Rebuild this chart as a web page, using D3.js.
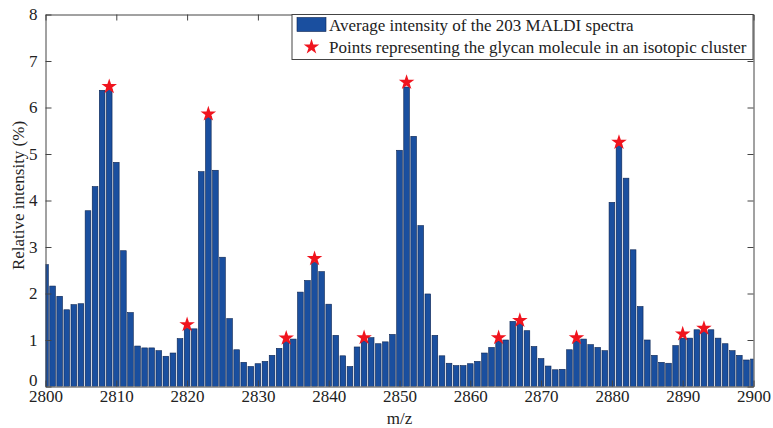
<!DOCTYPE html>
<html>
<head>
<meta charset="utf-8">
<script src="https://cdn.jsdelivr.net/npm/d3@7"></script>
<style>
  body { margin: 0; background: #fff; }
  text { font-family: "Liberation Serif", "Times New Roman", serif; fill: #222; }
</style>
</head>
<body>
<svg id="chart"></svg>
<script>
// m/z bins 2800..2900 (one bar per unit)
var mzStart = 2800;
var intensity = [
  2.62, 2.16, 1.94, 1.65, 1.76, 1.78, 3.78, 4.30, 6.37, 6.39,
  4.82, 2.92, 1.59, 0.87, 0.83, 0.83, 0.77, 0.65, 0.72, 1.03,
  1.25, 1.24, 4.62, 5.81, 4.65, 2.78, 1.46, 0.79, 0.52, 0.43,
  0.49, 0.54, 0.67, 0.82, 0.97, 1.02, 2.03, 2.28, 2.67, 2.47,
  1.77, 1.10, 0.66, 0.43, 0.85, 0.98, 1.05, 0.92, 0.96, 1.12,
  5.08, 6.44, 5.38, 3.46, 1.99, 1.10, 0.66, 0.50, 0.45, 0.45,
  0.49, 0.54, 0.72, 0.84, 0.98, 1.00, 1.40, 1.36, 1.20, 0.86,
  0.60, 0.44, 0.36, 0.37, 0.79, 0.98, 1.02, 0.90, 0.84, 0.77,
  3.96, 5.20, 4.48, 2.94, 1.72, 1.00, 0.67, 0.52, 0.50, 0.88,
  1.04, 1.04, 1.22, 1.20, 1.22, 1.04, 0.92, 0.77, 0.67, 0.57,
  0.59
];

// isotopic cluster points (stars)
var starMz = [2809, 2820, 2823, 2834, 2838, 2845, 2851, 2864, 2867, 2875, 2881, 2890, 2893];
var starVal = [6.45, 1.33, 5.86, 1.04, 2.75, 1.05, 6.54, 1.05, 1.42, 1.05, 5.25, 1.13, 1.25];

var xTicks = [2800, 2810, 2820, 2830, 2840, 2850, 2860, 2870, 2880, 2890, 2900];
var yTicks = [0, 1, 2, 3, 4, 5, 6, 7, 8];

var legendLabels = [
  'Average intensity of the 203 MALDI spectra',
  'Points representing the glycan molecule in an isotopic cluster'
];

var svgWidth = 773;
var svgHeight = 428;
var margin = { left: 45.5, top: 14.5, right: 19.5, bottom: 41.5 };
var width = svgWidth - margin.left - margin.right;
var height = svgHeight - margin.top - margin.bottom;

var barColor = '#1a4f9f';
var starColor = '#f0141e';
var fontSize = 17;

var svg = d3.select('#chart')
  .attr('width', svgWidth)
  .attr('height', svgHeight);

var x = d3.scaleLinear().domain([2800, 2900]).range([0, width]);
var y = d3.scaleLinear().domain([0, 8]).range([height, 0]);

var data = intensity.map(function(v, i) { return { mz: mzStart + i, value: v }; });
var stars = starMz.map(function(m, i) { return { mz: m, value: starVal[i] }; });

var g = svg.append('g')
  .attr('transform', 'translate(' + margin.left + ',' + margin.top + ')');

svg.append('defs').append('clipPath').attr('id', 'plot-clip')
  .append('rect').attr('width', width).attr('height', height);

var barW = 0.8 * (x(1) - x(0));

// bars
g.append('g')
  .attr('clip-path', 'url(#plot-clip)')
  .selectAll('rect')
  .data(data)
  .enter().append('rect')
    .attr('x', function(d) { return x(d.mz) - barW / 2; })
    .attr('y', function(d) { return y(d.value); })
    .attr('width', barW)
    .attr('height', function(d) { return height - y(d.value); })
    .attr('fill', barColor)
    .attr('stroke', '#0b2350')
    .attr('stroke-width', 0.6);

// stars
var star = d3.symbol().type(d3.symbolStar).size(75);
g.append('g')
  .selectAll('path')
  .data(stars)
  .enter().append('path')
    .attr('d', star)
    .attr('transform', function(d) { return 'translate(' + x(d.mz) + ',' + y(d.value) + ')'; })
    .attr('fill', starColor);

// axes (ticks inward, box on)
var tickLen = 6;
var xAxis = d3.axisBottom(x).tickValues(xTicks).tickFormat(d3.format('d'))
  .tickSizeInner(-tickLen).tickSizeOuter(0).tickPadding(3);
var yAxis = d3.axisLeft(y).tickValues(yTicks)
  .tickSizeInner(-tickLen).tickSizeOuter(0).tickPadding(8);

var gx = g.append('g').attr('transform', 'translate(0,' + height + ')').call(xAxis);
var gy = g.append('g').call(yAxis);
var gxTop = g.append('g').call(d3.axisTop(x).tickValues(xTicks).tickFormat('')
  .tickSizeInner(-tickLen).tickSizeOuter(0));
var gyRight = g.append('g').attr('transform', 'translate(' + width + ',0)')
  .call(d3.axisRight(y).tickValues(yTicks).tickFormat('')
  .tickSizeInner(-tickLen).tickSizeOuter(0));

[gx, gy, gxTop, gyRight].forEach(function(a) {
  a.selectAll('.domain').attr('stroke', '#444').attr('stroke-width', 1);
  a.selectAll('.tick line').attr('stroke', '#444');
  a.selectAll('.tick text').attr('font-size', fontSize)
    .attr('font-family', '"Liberation Serif", serif').attr('fill', '#222');
});
// the "0" sits just above the first x label, as in the original
gy.selectAll('.tick text').attr('dy', function(d) { return d === 0 ? '-0.05em' : '0.32em'; });

// axis labels
g.append('text')
  .attr('x', width / 2)
  .attr('y', height + 37.5)
  .attr('text-anchor', 'middle')
  .attr('font-size', fontSize)
  .text('m/z');

g.append('text')
  .attr('transform', 'translate(' + (-22) + ',' + (height / 2 - 5) + ') rotate(-90)')
  .attr('text-anchor', 'middle')
  .attr('font-size', fontSize)
  .text('Relative intensity (%)');

// legend
var lg = svg.append('g').attr('transform', 'translate(292,14.5)');
lg.append('rect')
  .attr('width', 461).attr('height', 45)
  .attr('fill', '#fff')
  .attr('stroke', '#444').attr('stroke-width', 1);
lg.append('rect')
  .attr('x', 5).attr('y', 3).attr('width', 29).attr('height', 14)
  .attr('fill', barColor).attr('stroke', '#0b2350').attr('stroke-width', 0.6);
lg.append('path')
  .attr('d', d3.symbol().type(d3.symbolStar).size(75))
  .attr('transform', 'translate(19.5,32.5)')
  .attr('fill', starColor);
lg.selectAll('text.lbl')
  .data(legendLabels)
  .enter().append('text')
    .attr('class', 'lbl')
    .attr('x', 37)
    .attr('y', function(d, i) { return 16 + i * 22; })
    .attr('font-size', fontSize)
    .text(function(d) { return d; });
</script>
</body>
</html>
